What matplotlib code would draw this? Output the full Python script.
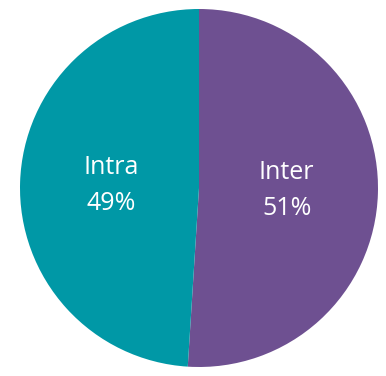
import matplotlib
matplotlib.use("Agg")
import matplotlib.pyplot as plt

categories = ["Inter", "Intra"]
values = [51, 49]
colors = ["#6E5091", "#0098A6"]

W, H, DPI = 386, 376, 100
fig = plt.figure(figsize=(W / DPI, H / DPI), dpi=DPI)
cx, cy, r = 199, 188, 179
ax = fig.add_axes([(cx - r) / W, (cy - r) / H, 2 * r / W, 2 * r / H])

labels = [f"{c}\n{v}%" for c, v in zip(categories, values)]
wedges, texts = ax.pie(values, labels=labels, colors=colors, startangle=90,
                       counterclock=False, labeldistance=0.49,
                       textprops=dict(color="white", fontsize=18,
                                      family="Open Sans", linespacing=1.6))
for t in texts:
    t.set_ha("center")
    t.set_va("center")
ax.set_xlim(-1, 1)
ax.set_ylim(-1, 1)
ax.set_axis_off()
fig.savefig("out.png", dpi=DPI)
